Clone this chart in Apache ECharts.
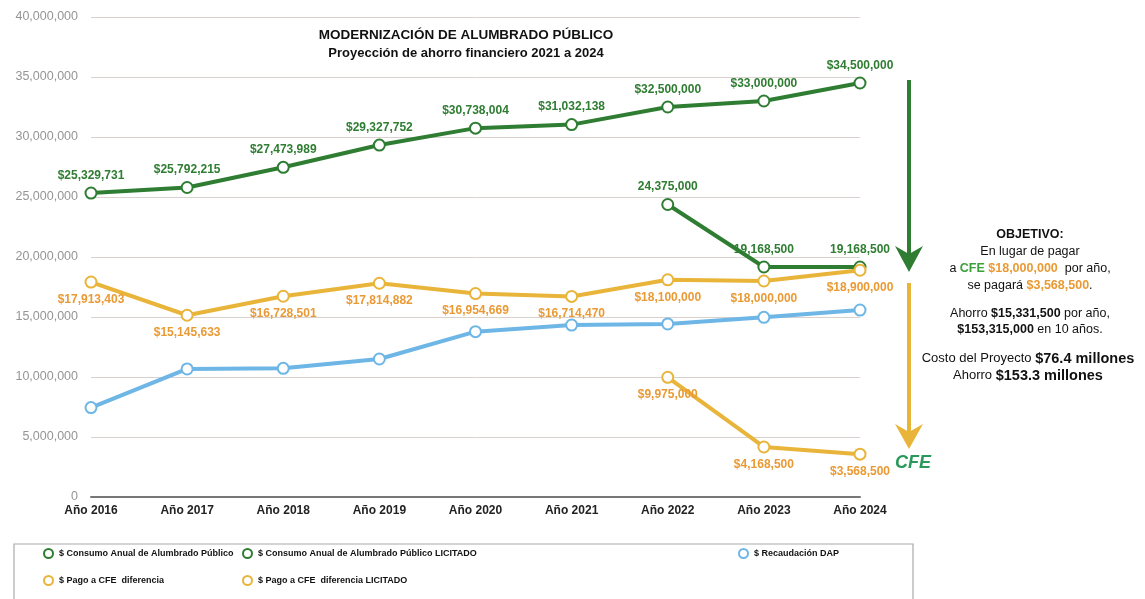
<!DOCTYPE html>
<html>
<head>
<meta charset="utf-8">
<script src="https://cdn.jsdelivr.net/npm/echarts@6/dist/echarts.min.js"></script>
<style>
  html, body { margin: 0; padding: 0; background: #fff; }
  #chart { width: 1145px; height: 599px; }
</style>
</head>
<body>
<div id="chart"></div>
<script>
// datos de la grafica
var anios = ['Año 2016', 'Año 2017', 'Año 2018', 'Año 2019', 'Año 2020', 'Año 2021', 'Año 2022', 'Año 2023', 'Año 2024'];
var consumoAnual = [25329731, 25792215, 27473989, 29327752, 30738004, 31032138, 32500000, 33000000, 34500000];
var consumoLicitado = [null, null, null, null, null, null, 24375000, 19168500, 19168500];
var recaudacionDAP = [7450000, 10670000, 10720000, 11500000, 13780000, 14330000, 14420000, 14970000, 15580000];
var pagoCFE = [17913403, 15145633, 16728501, 17814882, 16954669, 16714470, 18100000, 18000000, 18900000];
var pagoLicitado = [null, null, null, null, null, null, 9975000, 4168500, 3568500];

var nombres = [
    '$ Consumo Anual de Alumbrado Público',
    '$ Consumo Anual de Alumbrado Público LICITADO',
    '$ Recaudación DAP',
    '$ Pago a CFE  diferencia',
    '$ Pago a CFE  diferencia LICITADO'
];

var VERDE = '#2f7d32';
var AZUL = '#6db6e6';
var AMARILLO = '#e9b43a';
var NARANJA = '#ea9a34';

function miles(v) {
    return String(v).replace(/\B(?=(\d{3})+(?!\d))/g, ',');
}

function serie(nombre, datos, color, etiqueta) {
    return {
        name: nombre,
        type: 'line',
        data: datos,
        color: color,
        symbol: 'emptyCircle',
        symbolSize: 11,
        connectNulls: false,
        lineStyle: { width: 4, color: color },
        itemStyle: { color: color, borderColor: color, borderWidth: 3 },
        label: etiqueta,
        z: 3
    };
}

function etiqueta(pos, color, prefijo) {
    return {
        show: true,
        position: pos,
        distance: 5,
        color: color,
        fontFamily: 'Liberation Sans, Arial, sans-serif',
        fontWeight: 'bold',
        fontSize: 12,
        formatter: function (p) { return prefijo + miles(p.value); }
    };
}

function leyenda(nombre, left, top) {
    return {
        data: [nombre],
        left: left,
        top: top,
        icon: 'emptyCircle',
        itemWidth: 9,
        itemHeight: 9,
        itemGap: 0,
        padding: 0,
        selectedMode: false,
        itemStyle: { borderWidth: 2 },
        textStyle: {
            color: '#111',
            fontFamily: 'Liberation Sans, Arial, sans-serif',
            fontWeight: 'bold',
            fontSize: 9,
            padding: [0, 0, 0, 1]
        }
    };
}

var chart = echarts.init(document.getElementById('chart'));

var option = {
    backgroundColor: '#fff',
    animation: false,
    grid: { left: 91, right: 285, top: 17, bottom: 102, containLabel: false },
    xAxis: {
        type: 'category',
        data: anios,
        boundaryGap: false,
        axisLine: { lineStyle: { color: '#777', width: 2 } },
        axisTick: { show: false },
        axisLabel: {
            color: '#222',
            fontFamily: 'Liberation Sans, Arial, sans-serif',
            fontWeight: 'bold',
            fontSize: 12,
            margin: 8
        },
        splitLine: { show: false }
    },
    yAxis: {
        type: 'value',
        min: 0,
        max: 40000000,
        interval: 5000000,
        axisLine: { show: false },
        axisTick: { show: false },
        axisLabel: {
            color: '#959595',
            fontFamily: 'Liberation Sans, Arial, sans-serif',
            fontSize: 12.5,
            margin: 13,
            formatter: function (v) { return miles(v); }
        },
        splitLine: { lineStyle: { color: '#d9d1cd', width: 1 } }
    },
    legend: [
        leyenda(nombres[0], 43, 548),
        leyenda(nombres[1], 242, 548),
        leyenda(nombres[2], 738, 548),
        leyenda(nombres[3], 43, 575),
        leyenda(nombres[4], 242, 575)
    ],
    series: [
        serie(nombres[0], consumoAnual, VERDE, etiqueta('top', VERDE, '$')),
        serie(nombres[1], consumoLicitado, VERDE, etiqueta('top', VERDE, '')),
        serie(nombres[2], recaudacionDAP, AZUL, { show: false }),
        serie(nombres[3], pagoCFE, AMARILLO, etiqueta('bottom', NARANJA, '$')),
        serie(nombres[4], pagoLicitado, AMARILLO, etiqueta('bottom', NARANJA, '$'))
    ],
    graphic: [
        // titulo
        {
            type: 'text', z: 10,
            style: {
                x: 466, y: 35, text: 'MODERNIZACIÓN DE ALUMBRADO PÚBLICO',
                fill: '#111', font: 'bold 13.5px Liberation Sans, Arial, sans-serif',
                textAlign: 'center', textVerticalAlign: 'middle'
            }
        },
        {
            type: 'text', z: 10,
            style: {
                x: 466, y: 53, text: 'Proyección de ahorro financiero 2021 a 2024',
                fill: '#111', font: 'bold 13px Liberation Sans, Arial, sans-serif',
                textAlign: 'center', textVerticalAlign: 'middle'
            }
        },
        // caja de leyenda
        {
            type: 'rect', z: 1,
            shape: { x: 14, y: 544, width: 899, height: 70 },
            style: { fill: 'none', stroke: '#aaa', lineWidth: 1.2 }
        },
        // flecha verde
        {
            type: 'line', z: 5,
            shape: { x1: 909, y1: 80, x2: 909, y2: 258 },
            style: { stroke: VERDE, lineWidth: 4 }
        },
        {
            type: 'polygon', z: 5,
            shape: { points: [[895, 246], [909, 254], [923, 246], [909, 272]] },
            style: { fill: VERDE }
        },
        // flecha amarilla
        {
            type: 'line', z: 5,
            shape: { x1: 909, y1: 283, x2: 909, y2: 436 },
            style: { stroke: AMARILLO, lineWidth: 4 }
        },
        {
            type: 'polygon', z: 5,
            shape: { points: [[895, 424], [909, 432], [923, 424], [909, 449]] },
            style: { fill: AMARILLO }
        },
        // logo CFE
        {
            type: 'text', z: 5,
            style: {
                x: 895, y: 463, text: 'CFE', fill: '#2a9a5c',
                font: 'italic bold 18px Liberation Sans, sans-serif',
                textAlign: 'left', textVerticalAlign: 'middle'
            }
        },
        // texto del objetivo
        {
            type: 'text', z: 5,
            style: {
                x: 1030, y: 226, textAlign: 'center', lineHeight: 17,
                font: '12.5px Liberation Sans, Arial, sans-serif', fill: '#111',
                text: '{b|OBJETIVO:}\nEn lugar de pagar\na {g|CFE} {o|$18,000,000}  por año,\nse pagará {o|$3,568,500}.',
                rich: {
                    b: { fontWeight: 'bold', fontSize: 12.5, fill: '#111', lineHeight: 17 },
                    g: { fontWeight: 'bold', fontSize: 12.5, fill: '#3aa03a', lineHeight: 17 },
                    o: { fontWeight: 'bold', fontSize: 12.5, fill: NARANJA, lineHeight: 17 }
                }
            }
        },
        {
            type: 'text', z: 5,
            style: {
                x: 1030, y: 306, textAlign: 'center', lineHeight: 16,
                font: '12.5px Liberation Sans, Arial, sans-serif', fill: '#111',
                text: 'Ahorro {b|$15,331,500} por año,\n{b|$153,315,000} en 10 años.',
                rich: {
                    b: { fontWeight: 'bold', fontSize: 12.5, fill: '#111', lineHeight: 16 }
                }
            }
        },
        {
            type: 'text', z: 5,
            style: {
                x: 1028, y: 350, textAlign: 'center', lineHeight: 17,
                font: '13px Liberation Sans, Arial, sans-serif', fill: '#111',
                text: 'Costo del Proyecto {b|$76.4 millones}\nAhorro {b|$153.3 millones}',
                rich: {
                    b: { fontWeight: 'bold', fontSize: 14.5, fill: '#111', lineHeight: 17 }
                }
            }
        }
    ]
};

chart.setOption(option);
</script>
</body>
</html>
